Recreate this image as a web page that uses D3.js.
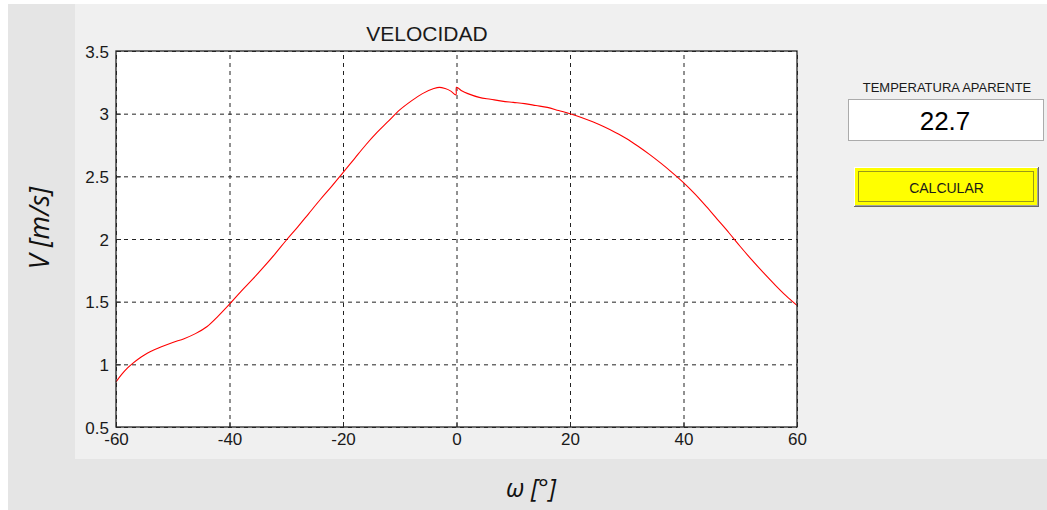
<!DOCTYPE html>
<html>
<head>
<meta charset="utf-8">
<script src="https://cdn.jsdelivr.net/npm/d3@7"></script>
<style>
    body { margin: 0; padding: 0; background: #ffffff; }
    svg { display: block; }
</style>
</head>
<body>
<div id="velocidad"></div>
<script>
// datos: ángulo (°) y velocidad (m/s)
var angulos = [-60, -59, -58, -57, -56, -55, -54, -52, -50, -48, -46, -44, -42, -40,
    -38, -36, -34, -32, -30, -28, -26, -24, -22, -20, -18, -16, -14, -12, -10,
    -8, -6, -4, -3, -2, -1, -0.1, 0, 1, 2, 4, 6, 8, 10, 12, 14, 16, 18, 20,
    22, 24, 26, 28, 30, 32, 34, 36, 38, 40, 42, 44, 46, 48, 50, 52, 54, 56, 58, 60];
var velocidades = [0.86, 0.92, 0.97, 1.01, 1.045, 1.075, 1.10, 1.14, 1.175, 1.205, 1.245, 1.30, 1.385, 1.48,
    1.58, 1.675, 1.775, 1.88, 1.99, 2.095, 2.205, 2.315, 2.42, 2.53, 2.64, 2.75, 2.85, 2.94, 3.03,
    3.10, 3.16, 3.20, 3.21, 3.20, 3.18, 3.15, 3.21, 3.18, 3.16, 3.13, 3.115, 3.10, 3.09, 3.08, 3.065, 3.05, 3.025, 3.0,
    2.97, 2.935, 2.895, 2.85, 2.80, 2.74, 2.675, 2.605, 2.53, 2.45, 2.36, 2.26, 2.155, 2.05, 1.94, 1.835, 1.735, 1.64, 1.55, 1.47];

var xTicks = [-60, -40, -20, 0, 20, 40, 60];
var yTicks = [0.5, 1, 1.5, 2, 2.5, 3, 3.5];

var titulo = "VELOCIDAD";
var etiquetaX = "ω [°]";
var etiquetaY = "V [m/s]";
var etiquetaTemp = "TEMPERATURA APARENTE";
var valorTemp = "22.7";
var textoBoton = "CALCULAR";

var width = 1047;
var height = 510;
// área del gráfico
var plot_left = 116, plot_right = 797, plot_top = 51, plot_bottom = 427;
var font_tick = "Liberation Sans, Arial, sans-serif";

// etiquetas con guion normal, como en la figura original
function fmt(d) {
    return String(d);
}

var svg = d3.select("#velocidad")
    .append("svg")
    .attr("width", width)
    .attr("height", height);

// fondos
svg.append("rect")
    .attr("x", 8).attr("y", 4)
    .attr("width", width - 8).attr("height", height - 4)
    .attr("fill", "#e5e5e5");

svg.append("rect")
    .attr("x", 75).attr("y", 4)
    .attr("width", width - 75).attr("height", 455)
    .attr("fill", "#f0f0f0");

// escalas
var xScale = d3.scaleLinear()
    .domain([-60, 60])
    .range([plot_left, plot_right]);

var yScale = d3.scaleLinear()
    .domain([0.5, 3.5])
    .range([plot_bottom, plot_top]);

svg.append("rect")
    .attr("x", plot_left).attr("y", plot_top)
    .attr("width", plot_right - plot_left).attr("height", plot_bottom - plot_top)
    .attr("fill", "#ffffff");

// rejilla
var xGrid = d3.axisBottom(xScale)
    .tickValues(xTicks)
    .tickSize(-(plot_bottom - plot_top))
    .tickFormat("");

var yGrid = d3.axisLeft(yScale)
    .tickValues(yTicks)
    .tickSize(-(plot_right - plot_left))
    .tickFormat("");

svg.append("g")
    .attr("class", "grid")
    .attr("transform", "translate(0," + plot_bottom + ")")
    .call(xGrid);

svg.append("g")
    .attr("class", "grid")
    .attr("transform", "translate(" + plot_left + ",0)")
    .call(yGrid);

svg.selectAll(".grid .domain").remove();
svg.selectAll(".grid line")
    .attr("stroke", "#222222")
    .attr("stroke-width", 1)
    .attr("stroke-dasharray", "4,4");

// curva
var puntos = angulos.map(function (a, i) {
    return { x: a, y: velocidades[i] };
});

var linea = d3.line()
    .x(function (d) { return xScale(d.x); })
    .y(function (d) { return yScale(d.y); })
    .curve(d3.curveCatmullRom.alpha(0.5));

svg.append("path")
    .datum(puntos)
    .attr("d", linea)
    .attr("fill", "none")
    .attr("stroke", "#ff0000")
    .attr("stroke-width", 1.1);

// caja
svg.append("rect")
    .attr("x", plot_left).attr("y", plot_top)
    .attr("width", plot_right - plot_left).attr("height", plot_bottom - plot_top)
    .attr("fill", "none")
    .attr("stroke", "#262626")
    .attr("stroke-width", 1.3);

// marcas de los ejes (hacia dentro)
var xAxis = d3.axisBottom(xScale)
    .tickValues(xTicks)
    .tickSize(-5)
    .tickFormat(fmt);

var yAxis = d3.axisLeft(yScale)
    .tickValues(yTicks)
    .tickSize(-5)
    .tickFormat(fmt);

var gx = svg.append("g")
    .attr("class", "axis")
    .attr("transform", "translate(0," + plot_bottom + ")")
    .call(xAxis);

var gy = svg.append("g")
    .attr("class", "axis")
    .attr("transform", "translate(" + plot_left + ",0)")
    .call(yAxis);

svg.selectAll(".axis .domain").remove();
svg.selectAll(".axis line").attr("stroke", "#262626");
svg.selectAll(".axis text")
    .style("font-family", font_tick)
    .style("font-size", "17px")
    .attr("fill", "#1a1a1a");
gx.selectAll("text").attr("y", 6).attr("dy", "0.71em");
gy.selectAll("text").attr("x", -7).attr("dy", "0.36em");

// título
svg.append("text")
    .text(titulo)
    .attr("x", 427)
    .attr("y", 41)
    .attr("text-anchor", "middle")
    .style("font-family", font_tick)
    .style("font-size", "21px")
    .attr("fill", "#1a1a1a");

// etiquetas de los ejes
svg.append("text")
    .text(etiquetaY)
    .attr("transform", "translate(49,228) rotate(-90)")
    .attr("text-anchor", "middle")
    .style("font-family", "Open Sans, sans-serif")
    .style("font-style", "italic")
    .style("font-size", "27px")
    .attr("fill", "#111111");

svg.append("text")
    .text(etiquetaX)
    .attr("x", 531)
    .attr("y", 497)
    .attr("text-anchor", "middle")
    .style("font-family", "Open Sans, sans-serif")
    .style("font-style", "italic")
    .style("font-size", "25px")
    .attr("fill", "#111111");

// panel derecho
svg.append("text")
    .text(etiquetaTemp)
    .attr("x", 947)
    .attr("y", 92)
    .attr("text-anchor", "middle")
    .style("font-family", font_tick)
    .style("font-size", "13px")
    .attr("fill", "#1a1a1a");

svg.append("rect")
    .attr("x", 848.5).attr("y", 99.5)
    .attr("width", 195).attr("height", 41)
    .attr("fill", "#ffffff")
    .attr("stroke", "#ababab")
    .attr("stroke-width", 1);

svg.append("text")
    .text(valorTemp)
    .attr("x", 945)
    .attr("y", 130)
    .attr("text-anchor", "middle")
    .style("font-family", font_tick)
    .style("font-size", "26px")
    .attr("fill", "#000000");

// botón
var bx = 854, by = 167, bw = 185, bh = 40;
svg.append("rect")
    .attr("x", bx).attr("y", by)
    .attr("width", bw).attr("height", bh)
    .attr("fill", "#696969");
svg.append("rect")
    .attr("x", bx).attr("y", by)
    .attr("width", bw - 1).attr("height", bh - 1)
    .attr("fill", "#ffffff");
svg.append("rect")
    .attr("x", bx + 1).attr("y", by + 1)
    .attr("width", bw - 2).attr("height", bh - 2)
    .attr("fill", "#a0a0a0");
svg.append("rect")
    .attr("x", bx + 1).attr("y", by + 1)
    .attr("width", bw - 3).attr("height", bh - 3)
    .attr("fill", "#ffff00");
svg.append("rect")
    .attr("x", bx + 4.5).attr("y", by + 4.5)
    .attr("width", bw - 10).attr("height", bh - 10)
    .attr("fill", "none")
    .attr("stroke", "#333333")
    .attr("stroke-width", 1)
    .attr("stroke-dasharray", "1,1");

svg.append("text")
    .text(textoBoton)
    .attr("x", bx + bw / 2)
    .attr("y", 193)
    .attr("text-anchor", "middle")
    .style("font-family", font_tick)
    .style("font-size", "14px")
    .attr("fill", "#1a1a1a");
</script>
</body>
</html>
